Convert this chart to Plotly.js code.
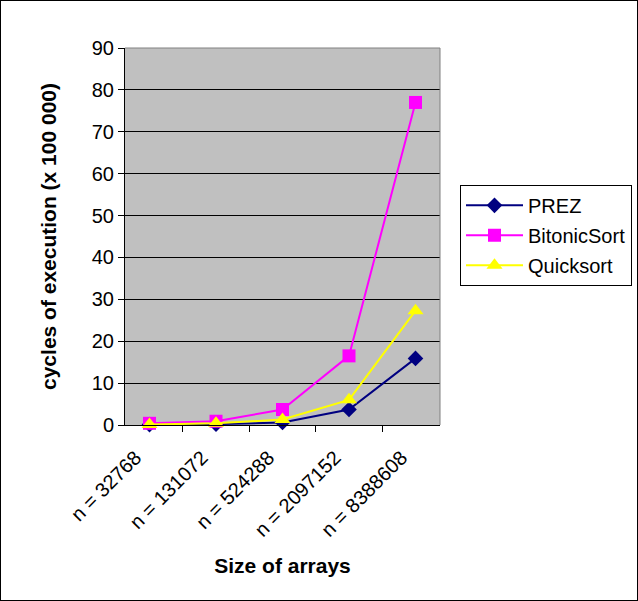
<!DOCTYPE html>
<html>
<head>
<meta charset="utf-8">
<script src="https://cdn.plot.ly/plotly-3.0.1.min.js"></script>
<style>
html,body{margin:0;padding:0;background:#fff;}
#chart{width:636px;height:599px;border:1px solid #000;}
</style>
</head>
<body>
<div id="chart"></div>
<script>
var categories = ["n = 32768", "n = 131072", "n = 524288", "n = 2097152", "n = 8388608"];
var prez = [0.1, 0.2, 0.6, 3.7, 15.9];
var bitonicSort = [0.4, 0.9, 3.7, 16.5, 77];
var quicksort = [0.1, 0.4, 1.3, 6.0, 27.3];
var yTicks = [0, 10, 20, 30, 40, 50, 60, 70, 80, 90];

var font = "Arial, 'Liberation Sans', sans-serif";
var traces = [
  {x: categories, y: prez, name: "PREZ", legendgroup: "a", type: "scatter", mode: "lines+markers",
   line: {color: "#000080", width: 2}, marker: {symbol: "diamond", size: 12, color: "#000080"}, cliponaxis: false},
  {x: categories, y: bitonicSort, name: "BitonicSort", legendgroup: "b", type: "scatter", mode: "lines+markers",
   line: {color: "#FF00FF", width: 2}, marker: {symbol: "square", size: 13, color: "#FF00FF"}, cliponaxis: false},
  {x: categories, y: quicksort, name: "Quicksort", legendgroup: "c", type: "scatter", mode: "lines+markers",
   line: {color: "#FFFF00", width: 2}, marker: {symbol: "triangle-up", size: 14, color: "#FFFF00"}, cliponaxis: false}
];
var layout = {
  width: 636, height: 599,
  margin: {l: 124, r: 197, t: 47, b: 175, pad: 0, autoexpand: false},
  paper_bgcolor: "#ffffff",
  plot_bgcolor: "#C0C0C0",
  font: {family: font, size: 20, color: "#000"},
  showlegend: true,
  legend: {x: 1.0635, y: 0.637, xanchor: "left", yanchor: "top", bgcolor: "#fff",
           bordercolor: "#000", borderwidth: 1, font: {family: font, size: 20},
           traceorder: "grouped", tracegroupgap: 1, itemwidth: 57},
  xaxis: {type: "category", tickangle: -45, ticks: "outside", ticklen: 6, tickcolor: "#000",
          tickson: "boundaries", showline: true, linecolor: "#000", linewidth: 1, mirror: false,
          showgrid: false, zeroline: false, fixedrange: true, automargin: false,
          ticklabelshift: -14, ticklabelstandoff: 12,
          tickfont: {family: font, size: 20},
          title: {text: "<b>Size of arrays</b>", font: {family: font, size: 21}, standoff: 18}},
  yaxis: {range: [0, 90], tickvals: yTicks, ticks: "outside", ticklen: 6, tickcolor: "#000",
          showline: true, linecolor: "#000", linewidth: 1, showgrid: true, gridcolor: "#000", gridwidth: 1,
          zeroline: false, fixedrange: true, automargin: false, tickfont: {family: font, size: 20},
          title: {text: "<b>cycles of execution (x 100 000)</b>", font: {family: font, size: 21}, standoff: 29}},
  shapes: [
    {type: "line", xref: "paper", yref: "paper", x0: 1, x1: 1, y0: 0, y1: 1, line: {color: "#808080", width: 1}},
    {type: "line", xref: "paper", yref: "paper", x0: 0, x1: 1, y0: 1, y1: 1, line: {color: "#808080", width: 1}}
  ]
};
Plotly.newPlot("chart", traces, layout, {displayModeBar: false, staticPlot: true});
</script>
</body>
</html>
